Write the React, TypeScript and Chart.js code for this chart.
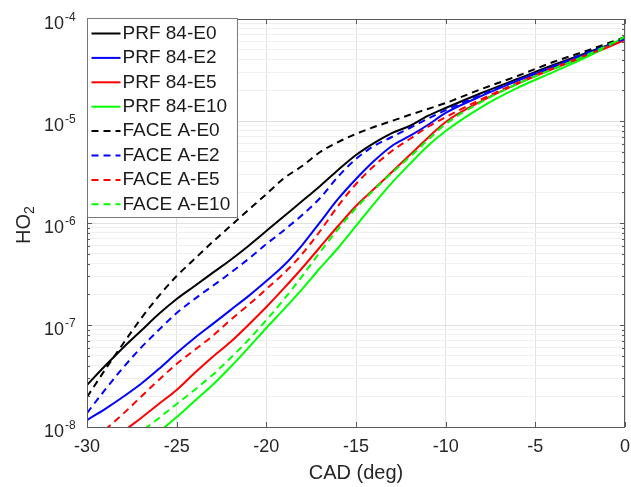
import React, { useEffect, useRef } from 'react';
import { Chart, registerables } from 'chart.js';
Chart.register(...registerables);

// CAD (deg)
const cad = [-30, -29, -28, -27, -26, -25, -24, -23, -22, -21, -20, -19, -18, -17, -16, -15, -14, -13, -12, -11, -10, -8, -6, -4, -2, 0];

const prfE0 = [2.58e-8, 3.96e-8, 5.96e-8, 8.73e-8, 1.28e-7, 1.80e-7, 2.41e-7, 3.24e-7, 4.34e-7, 5.96e-7, 8.35e-7, 1.17e-6, 1.64e-6, 2.31e-6, 3.31e-6, 4.64e-6, 6.08e-6, 7.62e-6, 8.93e-6, 1.12e-5, 1.34e-5, 1.88e-5, 2.58e-5, 3.54e-5, 4.75e-5, 6.37e-5];
const prfE2 = [1.17e-8, 1.50e-8, 1.97e-8, 2.64e-8, 3.70e-8, 5.31e-8, 7.46e-8, 1.02e-7, 1.40e-7, 1.92e-7, 2.70e-7, 3.87e-7, 6.08e-7, 1.02e-6, 1.72e-6, 2.70e-6, 4.05e-6, 5.69e-6, 7.13e-6, 9.14e-6, 1.20e-5, 1.76e-5, 2.47e-5, 3.38e-5, 4.64e-5, 6.37e-5];
const prfE5 = [4.54e-9, 6.22e-9, 8.93e-9, 1.22e-8, 1.68e-8, 2.31e-8, 3.38e-8, 4.86e-8, 6.81e-8, 1.00e-7, 1.50e-7, 2.31e-7, 3.62e-7, 5.82e-7, 9.35e-7, 1.47e-6, 2.15e-6, 3.16e-6, 4.64e-6, 6.81e-6, 9.78e-6, 1.57e-5, 2.31e-5, 3.24e-5, 4.44e-5, 6.22e-5];
const prfE10 = [2.89e-9, 3.79e-9, 4.97e-9, 6.51e-9, 8.93e-9, 1.25e-8, 1.80e-8, 2.58e-8, 3.87e-8, 5.96e-8, 9.35e-8, 1.44e-7, 2.25e-7, 3.62e-7, 5.69e-7, 9.35e-7, 1.54e-6, 2.47e-6, 3.79e-6, 5.69e-6, 7.98e-6, 1.37e-5, 2.11e-5, 3.02e-5, 4.34e-5, 6.66e-5];
const faceE0 = [1.97e-8, 3.62e-8, 6.51e-8, 1.15e-7, 1.92e-7, 3.02e-7, 4.44e-7, 6.51e-7, 9.35e-7, 1.34e-6, 1.92e-6, 2.76e-6, 3.62e-6, 4.97e-6, 6.22e-6, 7.46e-6, 8.73e-6, 1.00e-5, 1.15e-5, 1.31e-5, 1.50e-5, 2.06e-5, 2.76e-5, 3.79e-5, 4.97e-5, 6.66e-5];
const faceE2 = [1.37e-8, 2.31e-8, 3.79e-8, 5.96e-8, 8.93e-8, 1.31e-7, 1.80e-7, 2.41e-7, 3.24e-7, 4.44e-7, 6.22e-7, 8.54e-7, 1.20e-6, 1.76e-6, 2.85e-6, 4.24e-6, 5.69e-6, 6.97e-6, 8.54e-6, 1.05e-5, 1.28e-5, 1.80e-5, 2.52e-5, 3.46e-5, 4.75e-5, 6.37e-5];
const faceE5 = [6.66e-9, 9.35e-9, 1.34e-8, 1.97e-8, 2.89e-8, 4.15e-8, 5.69e-8, 7.80e-8, 1.12e-7, 1.57e-7, 2.25e-7, 3.24e-7, 4.97e-7, 8.35e-7, 1.47e-6, 2.41e-6, 3.62e-6, 5.08e-6, 6.66e-6, 8.73e-6, 1.09e-5, 1.64e-5, 2.36e-5, 3.31e-5, 4.54e-5, 6.22e-5];
const faceE10 = [3.62e-9, 4.75e-9, 6.37e-9, 8.93e-9, 1.22e-8, 1.68e-8, 2.31e-8, 3.24e-8, 4.75e-8, 7.13e-8, 1.12e-7, 1.80e-7, 3.02e-7, 5.20e-7, 8.73e-7, 1.40e-6, 2.11e-6, 3.09e-6, 4.44e-6, 6.51e-6, 9.35e-6, 1.54e-5, 2.31e-5, 3.24e-5, 4.54e-5, 6.66e-5];

const seriesLabels = ['PRF 84-E0', 'PRF 84-E2', 'PRF 84-E5', 'PRF 84-E10', 'FACE A-E0', 'FACE A-E2', 'FACE A-E5', 'FACE A-E10'];
const seriesValues = [prfE0, prfE2, prfE5, prfE10, faceE0, faceE2, faceE5, faceE10];
const seriesColors = ['#000000', '#0000ff', '#ff0000', '#00ff00', '#000000', '#0000ff', '#ff0000', '#00ff00'];
const seriesDashed = [false, false, false, false, true, true, true, true];

const xTicks = [-30, -25, -20, -15, -10, -5, 0];
const xTickLabels = ['-30', '-25', '-20', '-15', '-10', '-5', '0'];
const yDecades = [1e-8, 1e-7, 1e-6, 1e-5, 1e-4];
const yExponents = ['-8', '-7', '-6', '-5', '-4'];
const yMinorMultipliers = [2, 3, 4, 5, 6, 7, 8, 9];

const FONT = '"Liberation Sans", Arial, Helvetica, sans-serif';
const DASH = [7, 5];

function isDecade(v: number) {
  const l = Math.log10(v);
  return Math.abs(l - Math.round(l)) < 1e-6;
}

const matlabPlugin = {
  id: 'matlabDecor',
  afterDraw(chart: any) {
    const ctx = chart.ctx;
    const { left, right, top, bottom } = chart.chartArea;
    const xs = chart.scales.x;
    const ys = chart.scales.y;
    ctx.save();

    // axes box
    ctx.strokeStyle = '#5a5a5a';
    ctx.lineWidth = 1;
    ctx.setLineDash([]);
    ctx.strokeRect(Math.round(left) + 0.5, Math.round(top) + 0.5, Math.round(right - left) - 1, Math.round(bottom - top));

    // x ticks (inward, bottom and top)
    ctx.beginPath();
    xTicks.forEach((v) => {
      const px = Math.round(xs.getPixelForValue(v)) + 0.5;
      ctx.moveTo(px, bottom);
      ctx.lineTo(px, bottom - 5);
      ctx.moveTo(px, top);
      ctx.lineTo(px, top + 5);
    });
    // y ticks (inward, left and right)
    yDecades.forEach((d, i) => {
      const py = Math.round(ys.getPixelForValue(d)) + 0.5;
      ctx.moveTo(left, py);
      ctx.lineTo(left + 5, py);
      ctx.moveTo(right, py);
      ctx.lineTo(right - 5, py);
      if (i < yDecades.length - 1) {
        yMinorMultipliers.forEach((m) => {
          const pm = Math.round(ys.getPixelForValue(d * m)) + 0.5;
          ctx.moveTo(left, pm);
          ctx.lineTo(left + 3, pm);
          ctx.moveTo(right, pm);
          ctx.lineTo(right - 3, pm);
        });
      }
    });
    ctx.stroke();

    // x tick labels
    ctx.fillStyle = '#262626';
    ctx.font = `18px ${FONT}`;
    ctx.textAlign = 'center';
    ctx.textBaseline = 'middle';
    xTicks.forEach((v, i) => {
      ctx.fillText(xTickLabels[i], xs.getPixelForValue(v), bottom + 20);
    });

    // y tick labels: 10^exp
    yDecades.forEach((d, i) => {
      const py = ys.getPixelForValue(d);
      ctx.font = `18px ${FONT}`;
      ctx.textAlign = 'right';
      ctx.textBaseline = 'middle';
      ctx.fillText('10', 64, py + 5);
      ctx.font = `12px ${FONT}`;
      ctx.textAlign = 'left';
      ctx.fillText(yExponents[i], 65, py - 1);
    });

    // x title
    ctx.font = `20px ${FONT}`;
    ctx.textAlign = 'center';
    ctx.textBaseline = 'middle';
    ctx.fillText('CAD (deg)', (left + right) / 2, 473);

    // y title HO2 (rotated, subscript 2)
    ctx.save();
    ctx.translate(24, (top + bottom) / 2 + 2);
    ctx.rotate(-Math.PI / 2);
    ctx.font = `20px ${FONT}`;
    const wHO = ctx.measureText('HO').width;
    ctx.font = `14px ${FONT}`;
    const w2 = ctx.measureText('2').width;
    const start = -(wHO + w2) / 2;
    ctx.font = `20px ${FONT}`;
    ctx.textAlign = 'left';
    ctx.textBaseline = 'middle';
    ctx.fillText('HO', start, 0);
    ctx.font = `14px ${FONT}`;
    ctx.fillText('2', start + wHO, 6);
    ctx.restore();

    // legend
    const lx = Math.round(left) + 0.5;
    const ly = Math.round(top) - 0.5;
    const lw = 150;
    const lh = 199;
    ctx.fillStyle = '#ffffff';
    ctx.fillRect(lx, ly, lw, lh);
    ctx.strokeStyle = '#7a7a7a';
    ctx.lineWidth = 1;
    ctx.setLineDash([]);
    ctx.strokeRect(lx, ly, lw, lh);
    ctx.font = `19px ${FONT}`;
    ctx.textAlign = 'left';
    ctx.textBaseline = 'middle';
    chart.data.datasets.forEach((ds: any, i: number) => {
      const cy = ly + 15 + i * 24.4;
      ctx.strokeStyle = ds.borderColor;
      ctx.lineWidth = 2;
      ctx.setLineDash(ds.borderDash || []);
      ctx.beginPath();
      ctx.moveTo(lx + 4, cy);
      ctx.lineTo(lx + 33, cy);
      ctx.stroke();
      ctx.setLineDash([]);
      ctx.fillStyle = '#1a1a1a';
      ctx.fillText(ds.label, lx + 35, cy);
    });

    ctx.restore();
  },
};

export default function App() {
  const ref = useRef<HTMLCanvasElement>(null);

  useEffect(() => {
    if (!ref.current) return;
    const datasets = seriesLabels.map((label, i) => ({
      label,
      data: cad.map((x, j) => ({ x, y: seriesValues[i][j] })),
      borderColor: seriesColors[i],
      backgroundColor: seriesColors[i],
      borderWidth: 2,
      borderDash: seriesDashed[i] ? DASH : [],
      pointRadius: 0,
      cubicInterpolationMode: 'monotone' as const,
      fill: false,
      order: seriesLabels.length - i,
    }));

    const chart = new Chart(ref.current, {
      type: 'line',
      data: { datasets },
      options: {
        responsive: false,
        animation: false,
        layout: { padding: { left: 0, top: 19, right: 6, bottom: 0 } },
        plugins: { legend: { display: false }, tooltip: { enabled: false } },
        scales: {
          x: {
            type: 'linear',
            min: -30,
            max: 0,
            afterBuildTicks: (scale: any) => {
              scale.ticks = xTicks.map((v) => ({ value: v }));
            },
            afterFit: (scale: any) => {
              scale.height = 60;
            },
            ticks: { display: false },
            border: { display: false },
            grid: { color: '#e3e3e3', drawTicks: false, lineWidth: 1 },
          },
          y: {
            type: 'logarithmic',
            min: 1e-8,
            max: 1e-4,
            afterBuildTicks: (scale: any) => {
              const t: any[] = [];
              yDecades.forEach((d, i) => {
                t.push({ value: d });
                if (i < yDecades.length - 1) yMinorMultipliers.forEach((m) => t.push({ value: d * m }));
              });
              scale.ticks = t;
            },
            afterFit: (scale: any) => {
              scale.width = 87;
            },
            ticks: { display: false },
            border: { display: false },
            grid: {
              drawTicks: false,
              lineWidth: 1,
              color: (c: any) => (c.tick && isDecade(c.tick.value) ? '#e0e0e0' : '#f0f0f0'),
            },
          },
        },
      },
      plugins: [matlabPlugin],
    });
    return () => chart.destroy();
  }, []);

  return (
    <div style={{ position: 'fixed', left: 0, top: 0, width: 631, height: 487, background: '#ffffff' }}>
      <canvas ref={ref} width={631} height={487} style={{ display: 'block', width: 631, height: 487 }} />
    </div>
  );
}
